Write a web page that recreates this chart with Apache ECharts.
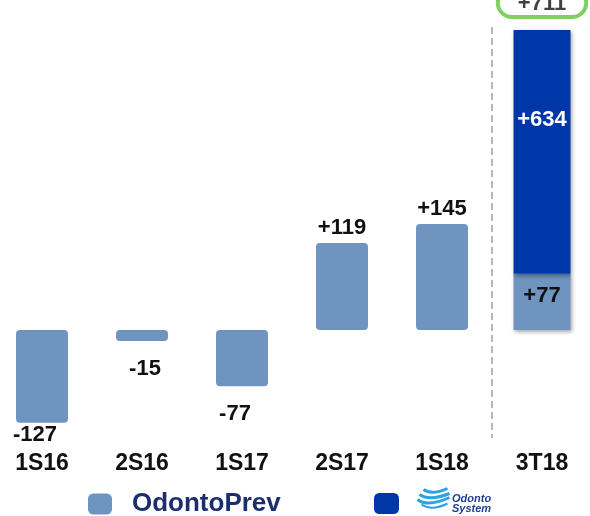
<!DOCTYPE html>
<html>
<head>
<meta charset="utf-8">
</head>
<body style="margin: 0">
<div id="container" style="width: 590px; height: 516px;"></div>
<script type="text/javascript" src="https://cdn.jsdelivr.net/npm/echarts@6/dist/echarts.min.js"></script>
<script type="text/javascript">
// periods and net additions (thousand members)
var periods = ['1S16', '2S16', '1S17', '2S17', '1S18', '3T18'];
var prevHalfYear = [-127, -15, -77, 119, 145, '-'];
var prevQuarter = ['-', '-', '-', '-', '-', 77];
var systemQuarter = ['-', '-', '-', '-', '-', 634];

var LIGHT = '#7094c0';
var DARK = '#0037a8';
var INK = '#111111';
var FONT = 'Liberation Sans, Arial, sans-serif';

var totals = prevQuarter.map(function (v, i) {
	return v === '-' ? '-' : v + systemQuarter[i];
});

function signed(v) {
	return v > 0 ? '+' + v : '' + v;
}

var dom = document.getElementById('container');
var myChart = echarts.init(dom);

var option = {
	animation: false,
	grid: {left: -8, right: -2, top: 27, bottom: 78, outerBoundsMode: 'none'},
	xAxis: [
		{
			type: 'category',
			data: periods,
			axisLine: {show: false},
			axisTick: {show: false},
			axisLabel: {margin: 14, color: INK, fontSize: 23, fontWeight: 'bold', fontFamily: FONT},
			splitLine: {
				show: true,
				interval: 4,
				lineStyle: {color: '#b8b8b8', type: [7, 4], width: 2}
			}
		},
		{type: 'category', data: periods, show: false}
	],
	yAxis: {
		type: 'value',
		min: -148,
		max: 715,
		show: false,
		splitLine: {show: false},
		breaks: [{start: 200, end: 500, gap: 0}],
		breakArea: {show: false}
	},
	legend: [
		{
			data: ['OdontoPrev'],
			left: 83, top: 486,
			icon: 'roundRect', itemWidth: 24, itemHeight: 21,
			selectedMode: false,
			textStyle: {color: '#1b2f6e', fontSize: 26, fontWeight: 'bold', fontFamily: FONT, padding: [0, 0, 0, 15]}
		},
		{
			data: ['Odonto System'],
			left: 369, top: 488,
			icon: 'roundRect', itemWidth: 25, itemHeight: 21,
			selectedMode: false,
			formatter: function () { return '{a|Odonto}\n{a|System}'; },
			textStyle: {
				padding: [0, 0, 0, 48],
				rich: {a: {fontSize: 11, fontWeight: 'bold', fontStyle: 'italic', color: '#1f3f8f', lineHeight: 10, fontFamily: FONT}}
			}
		}
	],
	graphic: [
		{
			type: 'group', left: 415, top: 486, silent: true,
			children: [
				{type: 'bezierCurve', shape: {x1: 0, y1: 14, cpx1: 10, cpy1: 22, x2: 32, y2: 12}, style: {stroke: '#2aa3e0', lineWidth: 3, fill: null}},
				{type: 'bezierCurve', shape: {x1: 2, y1: 9, cpx1: 12, cpy1: 16, x2: 32, y2: 8}, style: {stroke: '#2aa3e0', lineWidth: 3, fill: null}},
				{type: 'bezierCurve', shape: {x1: 6, y1: 4, cpx1: 14, cpy1: 10, x2: 30, y2: 3}, style: {stroke: '#2aa3e0', lineWidth: 3, fill: null}},
				{type: 'bezierCurve', shape: {x1: 4, y1: 19, cpx1: 14, cpy1: 26, x2: 30, y2: 18}, style: {stroke: '#2aa3e0', lineWidth: 2, fill: null}}
			]
		}
	],
	series: [
		{
			name: 'OdontoPrev',
			type: 'bar',
			xAxisIndex: 0,
			barWidth: 52,
			data: prevHalfYear.map(function (v, i) {
				// negative bars carry their label below the bar; the first one sits tight above the axis text
				if (v !== '-' && v < 0) {
					return {value: v, label: {position: 'bottom', distance: i === 0 ? 1 : 17, offset: [i === 1 ? 3 : -7, 0]}};
				}
				return v;
			}),
			itemStyle: {color: LIGHT, borderRadius: 4},
			label: {
				show: true,
				color: INK, fontSize: 22, fontWeight: 'bold', fontFamily: FONT,
				formatter: function (p) { return signed(p.value); },
				position: 'top',
				distance: 4
			}
		},
		{
			name: 'OdontoPrev',
			type: 'bar',
			xAxisIndex: 1,
			stack: 'q',
			barWidth: 57,
			data: prevQuarter,
			itemStyle: {color: LIGHT, shadowColor: 'rgba(0,0,0,0.35)', shadowBlur: 4, shadowOffsetX: 1, shadowOffsetY: 2},
			label: {
				show: true, position: 'inside', offset: [0, -6],
				color: INK, fontSize: 22, fontWeight: 'bold', fontFamily: FONT,
				formatter: function (p) { return signed(p.value); }
			}
		},
		{
			name: 'Odonto System',
			type: 'bar',
			xAxisIndex: 1,
			stack: 'q',
			barWidth: 57,
			data: systemQuarter,
			itemStyle: {color: DARK, shadowColor: 'rgba(0,0,0,0.35)', shadowBlur: 4, shadowOffsetX: 1, shadowOffsetY: 2},
			label: {
				show: true, position: 'inside', offset: [0, -32],
				color: '#ffffff', fontSize: 22, fontWeight: 'bold', fontFamily: FONT,
				formatter: function (p) { return signed(p.value); }
			}
		},
		{
			name: 'total',
			type: 'scatter',
			xAxisIndex: 1,
			symbolSize: 0,
			data: totals,
			label: {
				show: true, position: 'top', distance: 13,
				color: INK, fontSize: 22, fontWeight: 'bold', fontFamily: FONT,
				formatter: function (p) { return signed(p.value); },
				borderColor: '#5cc43a', borderWidth: 4, borderRadius: 16,
				padding: [4, 20, 2, 20]
			}
		}
	]
};

myChart.setOption(option);
</script>
</body>
</html>
